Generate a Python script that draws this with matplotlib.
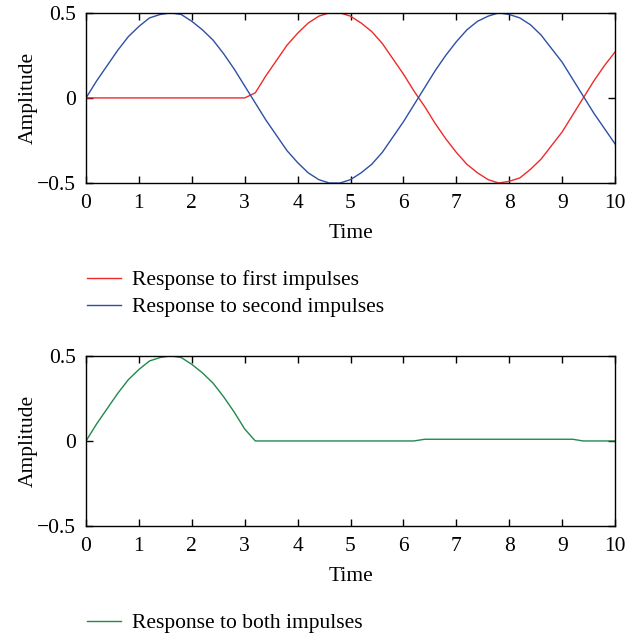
import matplotlib.pyplot as plt

plt.rcParams['font.family'] = ['Liberation Serif', 'DejaVu Serif']
plt.rcParams['font.size'] = 15.5

# tiempo (paso de 0.2)
tiempo = [i / 5 for i in range(51)]

# respuesta al segundo impulso (azul)
resp_segundo = [0.00, 0.10, 0.19, 0.28, 0.36, 0.42, 0.47, 0.49, 0.50, 0.49,
                0.45, 0.40, 0.34, 0.26, 0.17, 0.07, -0.03, -0.13, -0.22, -0.31,
                -0.38, -0.44, -0.48, -0.50, -0.50, -0.48, -0.44, -0.39, -0.32, -0.23,
                -0.14, -0.04, 0.06, 0.16, 0.25, 0.33, 0.40, 0.45, 0.48, 0.50,
                0.49, 0.47, 0.43, 0.37, 0.29, 0.21, 0.11, 0.01, -0.09, -0.18,
                -0.27]

# respuesta al primer impulso (rojo)
resp_primero = [0.00, 0.00, 0.00, 0.00, 0.00, 0.00, 0.00, 0.00, 0.00, 0.00,
                0.00, 0.00, 0.00, 0.00, 0.00, 0.00, 0.03, 0.13, 0.22, 0.31,
                0.38, 0.44, 0.48, 0.50, 0.50, 0.48, 0.44, 0.39, 0.32, 0.23,
                0.14, 0.04, -0.05, -0.15, -0.24, -0.32, -0.39, -0.44, -0.48, -0.50,
                -0.49, -0.47, -0.42, -0.36, -0.28, -0.20, -0.10, 0.00, 0.10, 0.19,
                0.27]

# respuesta a ambos impulsos (verde)
resp_ambos = [0.00, 0.10, 0.19, 0.28, 0.36, 0.42, 0.47, 0.49, 0.50, 0.49,
              0.45, 0.40, 0.34, 0.26, 0.17, 0.07, 0.00, 0.00, 0.00, 0.00,
              0.00, 0.00, 0.00, 0.00, 0.00, 0.00, 0.00, 0.00, 0.00, 0.00,
              0.00, 0.00, 0.01, 0.01, 0.01, 0.01, 0.01, 0.01, 0.01, 0.01,
              0.01, 0.01, 0.01, 0.01, 0.01, 0.01, 0.01, 0.00, 0.00, 0.00,
              0.00]

rojo = '#ee2a2a'
azul = '#2f4fa5'
verde = '#1f8a4c'

fig = plt.figure(figsize=(6.42, 6.4), dpi=100)
ax1 = fig.add_axes([0.134, 0.714, 0.824, 0.266])
ax2 = fig.add_axes([0.134, 0.178, 0.824, 0.266])

l1, = ax1.plot(tiempo, resp_primero, color=rojo, linewidth=1)
l2, = ax1.plot(tiempo, resp_segundo, color=azul, linewidth=1)
l3, = ax2.plot(tiempo, resp_ambos, color=verde, linewidth=1)

for ax in (ax1, ax2):
    ax.set_xlim(0, 10)
    ax.set_ylim(-0.5, 0.5)
    ax.set_xticks(range(11))
    ax.set_yticks([-0.5, 0, 0.5])
    ax.set_yticklabels(['\u22120.5', '0', '0.5'])
    ax.tick_params(direction='in', top=True, right=True, length=5, width=1)
    ax.tick_params(axis='x', pad=8)
    ax.tick_params(axis='y', pad=7)
    ax.set_xlabel('Time', labelpad=8)
    ax.set_ylabel('Amplitude', labelpad=0)
    for s in ax.spines.values():
        s.set_linewidth(1)

fig.legend([l1, l2], ['Response to first impulses', 'Response to second impulses'],
           loc='upper left', bbox_to_anchor=(0.105, 0.608), frameon=False,
           handlelength=1.6, handletextpad=0.5, labelspacing=0.32)
fig.legend([l3], ['Response to both impulses'],
           loc='upper left', bbox_to_anchor=(0.105, 0.072), frameon=False,
           handlelength=1.6, handletextpad=0.5)

fig.savefig('out.png', dpi=100)
